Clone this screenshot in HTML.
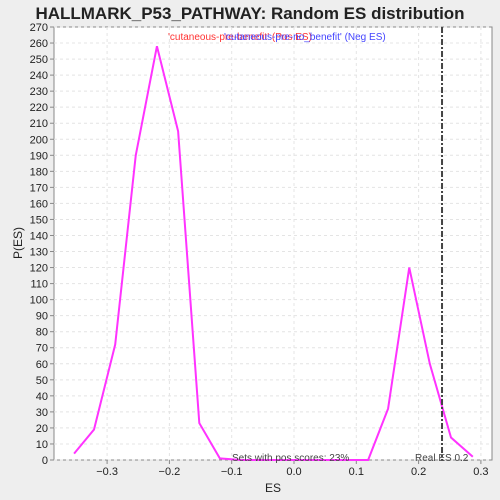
<!DOCTYPE html>
<html><head><meta charset="utf-8"><style>
body{margin:0;background:#eeeeee;font-family:"Liberation Sans",sans-serif;overflow:hidden}
</style></head><body>
<svg width="500" height="500" style="display:block" xmlns="http://www.w3.org/2000/svg">
<text x="250" y="19" text-anchor="middle" font-size="17" font-weight="bold" fill="#222">HALLMARK_P53_PATHWAY: Random ES distribution</text>
<rect x="54" y="27" width="438" height="433" fill="#fff" stroke="#888"/>
<g id="grid"></g><g id="axes"></g><g id="series"></g>
<text x="273" y="492" text-anchor="middle" font-size="12" fill="#222">ES</text>
<text x="22" y="243" text-anchor="middle" font-size="12" fill="#222" transform="rotate(-90 22 243)">P(ES)</text>
<text x="168" y="40" font-size="10" fill="#ff3333">'cutaneous-pre-benefit' (Pos ES)</text>
<text x="224" y="40" font-size="10" fill="#4444ff">'cutaneous-pre-no_benefit' (Neg ES)</text>
<text x="232" y="461" font-size="10" fill="#444">Sets with pos scores: 23%</text>
<text x="415" y="461" font-size="10" fill="#444">Real ES 0.2</text>
</svg>
<script>
const esValues=[-0.353,-0.321,-0.287,-0.254,-0.220,-0.186,-0.152,-0.119,-0.085,0.119,0.151,0.185,0.218,0.252,0.287];
const probValues=[4,19,72,190,258,205,23,1,0,0,32,120,60,14,2];
const xTicks=[-0.3,-0.2,-0.1,0.0,0.1,0.2,0.3];
const yTicks=[0,10,20,30,40,50,60,70,80,90,100,110,120,130,140,150,160,170,180,190,200,210,220,230,240,250,260,270];
const realES=0.2376;
const NS="http://www.w3.org/2000/svg";
const xs=v=>294+v*623, ys=v=>460-v*433/270;
function mk(t,a,p){const e=document.createElementNS(NS,t);for(const k in a)e.setAttribute(k,a[k]);p.appendChild(e);return e;}
const g=document.getElementById('grid'),ax=document.getElementById('axes'),s=document.getElementById('series');
xTicks.forEach(v=>{const x=xs(v);
const l=mk('line',{x1:x,x2:x,y1:27,y2:460,stroke:'#e4e4e4','stroke-dasharray':'3,3'},g);

mk('line',{x1:x,x2:x,y1:460,y2:464,stroke:'#888'},ax);
const t=mk('text',{x:x,y:475,'text-anchor':'middle','font-size':'11',fill:'#222'},ax);t.textContent=(v<0?'\u2212':'')+Math.abs(v).toFixed(1);
});
yTicks.forEach(v=>{const y=ys(v);
const l=mk('line',{x1:54,x2:492,y1:y,y2:y,stroke:'#e4e4e4','stroke-dasharray':'3,3'},g);

mk('line',{x1:50,x2:54,y1:y,y2:y,stroke:'#888'},ax);
const t=mk('text',{x:48,y:y+4,'text-anchor':'end','font-size':'11',fill:'#222'},ax);t.textContent=v;
});
const pl=mk('polyline',{points:esValues.map((v,i)=>xs(v)+','+ys(probValues[i])).join(' '),fill:'none',stroke:'#ff33ff','stroke-width':2},s);

const rl=mk('line',{x1:xs(realES),x2:xs(realES),y1:27,y2:460,stroke:'#444','stroke-width':2,'stroke-dasharray':'6,2,2,2'},s);

</script>
</body></html>
